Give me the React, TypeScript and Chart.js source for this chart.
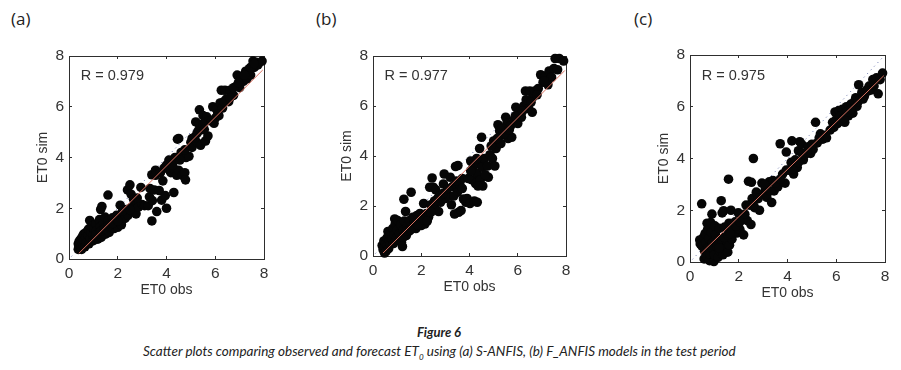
import React, { useEffect, useRef } from "react";
import { Chart, registerables } from "chart.js";

Chart.register(...registerables);

type P = [number, number];

const panelLetters = ["(a)", "(b)", "(c)"];
const rLabels = ["R = 0.979", "R = 0.977", "R = 0.975"];
const xTitle = "ET0 obs";
const yTitle = "ET0 sim";
const captionTitle = "Figure 6";

const fitA: P[] = [[0.4, 0.22], [7.95, 7.45]];
const fitB: P[] = [[0.42, 0.12], [7.95, 7.42]];
const fitC: P[] = [[0.42, 0.3], [7.95, 7.2]];
const identity: P[] = [[0.1, 0.1], [7.9, 7.9]];

const pointsA: P[] = [
  [.38,.38],[.38,.6],[.4,.48],[.42,.7],[.45,.42],[.45,.62],[.48,.78],[.5,.5],[.52,.38],[.52,.7],
  [.55,.88],[.58,.55],[.6,.72],[.6,.98],[.65,.48],[.68,.85],[.7,1.05],[.72,.65],[.78,.95],[.8,1.18],
  [.82,.6],[.85,1.52],[.88,.82],[.9,1.05],[.92,1.28],[1,.72],[1,.95],[1.02,1.2],[1.08,.85],[1.1,1.38],
  [1.12,1.1],[1.18,.78],[1.22,1.02],[1.25,1.55],[1.28,1.28],[1.3,1.95],[1.32,.85],[1.35,2.07],[1.4,1.12],[1.42,1.42],
  [1.48,1.65],[1.5,.98],[1.55,1.25],[1.6,2.52],[1.62,1.52],[1.65,1.05],[1.72,1.28],[1.78,1.62],[1.85,1.2],[1.9,1.45],
  [1.95,1.72],[2,1.25],[2.05,1.55],[2.1,2.12],[2.15,1.35],[2.2,1.7],[2.3,1.6],[2.35,1.95],[2.4,2.72],[2.42,1.72],
  [2.5,2.92],[2.55,2.55],[2.55,2.02],[2.62,1.85],[2.7,2.15],[2.75,1.78],[2.85,2.05],[2.95,2.82],[3,2.15],[3.1,2.1],
  [3.25,2.1],[3.3,2.45],[3.32,2.78],[3.4,3.32],[3.4,1.5],[3.42,2.3],[3.55,3.5],[3.5,2.72],[3.6,1.87],[3.7,2.7],
  [3.8,2.32],[3.85,3.08],[3.9,3.58],[3.95,2.5],[4,2],[4.1,3.9],[4.12,3.5],[4.18,3.4],[4.3,2.62],[4.3,3.55],
  [4.35,4],[4.42,3.3],[4.45,4.72],[4.5,4.75],[4.5,3.5],[4.6,4.2],[4.65,3.3],[4.75,3.4],[4.78,3.12],[4.8,4],
  [4.92,4.05],[5,4.6],[5.05,4.4],[5.15,4.8],[5.2,5.4],[5.25,4.6],[5.3,5.05],[5.35,5.88],[5.4,4.48],[5.45,5.1],
  [5.5,5.65],[5.6,4.65],[5.65,5.6],[5.7,4.85],[5.75,5.45],[5.9,6],[5.95,5.35],[6,5.55],[6.05,5.9],[6.15,5.65],
  [6.2,6.15],[6.25,6.65],[6.3,5.95],[6.4,6.65],[6.45,6.3],[6.55,6.2],[6.6,6.65],[6.75,6.45],[6.85,6.8],[6.9,7.25],
  [7,6.75],[7.05,7.2],[7.15,7],[7.25,7.4],[7.3,7.1],[7.4,7.5],[7.45,7.25],[7.55,7.8],[7.6,7.55],[7.68,7.75],[7.75,7.65],[7.92,7.8],
  [1.1,.95],[1.3,1.1],[1.45,1.2],[1.6,1.3],[1.8,1.4],[2,1.5],[2.2,1.9],[2.5,1.95],[2.65,2.35],[2.8,2.4],
  [3.55,3.3],[3.75,3.4],[4,3.7],[4.25,3.7],[4.55,3.9],[4.75,4.3],[5.05,4.75],[5.25,4.95],[5.35,5.3],[5.5,5.3],
  [5.55,5.1],[5.85,5.45],[6.1,5.7],[6.35,6.2],[6.6,6.35],[6.75,6.75],[6.95,6.95],[7.2,7.25],[7.45,7.55],[7.6,7.7],
];

const pointsB: P[] = [
  [.38,.42],[.42,.25],[.45,.6],[.48,.12],[.5,.38],[.52,.5],[.55,.2],[.58,.72],[.6,.42],[.62,.98],
  [.65,.3],[.68,.62],[.7,.85],[.72,.48],[.78,.68],[.82,1.1],[.85,.5],[.88,.85],[.9,1.48],[.92,1.28],
  [.98,.72],[1,1.05],[1.02,1.42],[1.08,.62],[1.1,.9],[1.15,1.25],[1.18,.55],[1.22,.38],[1.25,1.02],[1.28,2.27],
  [1.3,1.4],[1.35,1.78],[1.38,.82],[1.42,1.18],[1.5,1],[1.52,1.42],[1.58,2.55],[1.6,1.2],[1.65,1.55],[1.72,1.3],
  [1.78,1.1],[1.82,1.62],[1.9,1.38],[1.95,1.7],[2,1.22],[2.05,1.55],[2.1,2.1],[2.15,1.28],[2.22,1.7],[2.3,1.55],
  [2.35,2.75],[2.4,2.05],[2.45,3.12],[2.5,2.75],[2.55,1.95],[2.6,2.65],[2.68,2.3],[2.72,1.78],[2.8,2.15],[2.92,2.88],
  [2.95,3.28],[3,2.3],[3.15,2.4],[3.2,3.15],[3.25,2.05],[3.3,2.78],[3.38,1.68],[3.42,3.58],[3.5,2.55],[3.52,3.62],
  [3.55,1.75],[3.6,2.85],[3.65,1.82],[3.7,3.1],[3.75,2.28],[3.85,2.15],[3.9,2.3],[3.95,3.1],[4.02,2.1],[4.05,3.8],
  [4.1,3.05],[4.15,3.55],[4.2,2.2],[4.25,2.9],[4.3,3.3],[4.32,2.15],[4.38,3.7],[4.42,4.3],[4.45,3.05],[4.5,4.75],
  [4.52,3.55],[4.55,2.8],[4.62,3.9],[4.75,3.6],[4.78,3.15],[4.85,4.05],[4.95,3.9],[5,4.6],[5.05,3.6],[5.1,4.3],
  [5.18,5.25],[5.25,5],[5.3,4.5],[5.4,4.85],[5.5,5.55],[5.55,5.3],[5.6,4.7],[5.7,5.2],[5.75,4.75],[5.85,5.45],
  [5.92,5.95],[6,5.3],[6.05,5.75],[6.15,5.55],[6.25,6],[6.32,6.6],[6.4,6.1],[6.45,5.9],[6.5,6.6],[6.6,5.75],
  [6.62,6.35],[6.7,6.6],[6.85,6.7],[6.95,7.25],[7.05,6.95],[7.15,7.2],[7.25,6.85],[7.3,7.4],[7.4,7.15],[7.5,7.5],
  [7.55,7.9],[7.65,7.45],[7.72,7.9],[7.9,7.8],
  [1.25,.75],[1.4,1],[1.55,1.05],[1.7,1.45],[1.85,1.25],[2.1,1.45],[2.25,1.4],[2.4,1.75],[2.55,2.2],[2.75,2.4],
  [2.9,2.5],[3.1,2.7],[3.35,2.4],[3.45,3],[3.7,2.7],[4.05,3.4],[4.3,3.9],[4.35,2.8],[4.65,3.25],[4.9,4.4],
  [5.15,4.7],[5.35,5.1],[5.45,4.9],[5.65,5.05],[5.9,5.6],[6.2,5.8],[6.35,6.25],[6.55,6.15],[6.8,6.45],[7.1,7],
];

const pointsC: P[] = [
  [.4,.85],[.42,.7],[.48,2.25],[.5,.6],[.55,.95],[.58,.12],[.6,.42],[.62,1.1],[.65,.75],[.68,.22],
  [.7,1.5],[.72,1.25],[.75,.55],[.78,.9],[.8,.05],[.82,.3],[.85,1.52],[.88,1.15],[.9,1.85],[.92,.75],
  [.95,.5],[.98,.02],[1,.28],[1.02,1.4],[1.05,1.05],[1.1,.6],[1.15,.18],[1.18,.85],[1.2,1.3],[1.22,.42],
  [1.28,2.37],[1.3,.7],[1.32,1.9],[1.35,.28],[1.38,1.98],[1.42,1.35],[1.45,.55],[1.5,.82],[1.55,.38],[1.58,3.2],
  [1.6,1.5],[1.62,.65],[1.68,2],[1.72,.88],[1.78,1.25],[1.85,1.55],[1.92,1.12],[1.98,1.9],[2.05,1.25],[2.15,1.7],
  [2.2,1.05],[2.3,2.2],[2.35,1.6],[2.4,3.12],[2.5,1.45],[2.52,3.08],[2.55,2.45],[2.6,4],[2.65,2.1],[2.72,2.7],
  [2.85,2],[2.95,3.05],[3,2.65],[3.1,2.85],[3.15,2.5],[3.25,3.1],[3.35,2.3],[3.4,3.15],[3.45,2.75],[3.6,2.9],
  [3.7,4.57],[3.8,3.4],[3.9,3.05],[3.95,4.25],[4.05,3.55],[4.15,3.85],[4.18,4.68],[4.25,3.4],[4.32,3.95],[4.4,3.65],
  [4.45,4.3],[4.5,4.65],[4.58,4.55],[4.65,3.95],[4.72,4.15],[4.85,4.45],[4.95,4.2],[5.05,4.35],[5.15,5.4],[5.22,4.6],
  [5.35,4.95],[5.45,4.75],[5.55,4.9],[5.6,4.8],[5.9,5.2],[5.95,5.8],[6,5.5],[6.05,5.35],[6.1,5.85],[6.18,5.45],
  [6.25,5.9],[6.3,5.7],[6.35,5.4],[6.42,6],[6.5,5.65],[6.55,5.95],[6.6,6.1],[6.68,5.75],[6.75,6.2],[6.8,6.35],
  [6.85,6.02],[6.92,6.85],[7,6.35],[7.05,6.55],[7.15,6.4],[7.25,6.65],[7.35,6.8],[7.45,6.65],[7.5,7.05],[7.55,6.8],
  [7.65,7.12],[7.72,6.5],[7.8,7.05],[7.9,7.3],
  [1.2,.55],[1.4,.95],[1.55,1.05],[1.65,1.1],[1.9,1.4],[2.05,1.55],[2.25,1.85],[2.45,2.2],[2.6,2.2],[2.8,2.45],
  [3.05,3],[3.3,2.75],[3.5,3.05],[3.7,3.2],[3.95,3.55],[4.2,3.6],[4.45,3.85],[4.6,4.2],[4.8,4.25],[5,4.55],
  [5.3,4.8],[5.75,5.1],[5.85,5.4],[6.15,5.65],[6.3,5.55],[6.45,5.8],[6.6,5.9],[6.9,6.2],[7.1,6.3],[7.3,6.6],
];

const panels = [
  { points: pointsA, fit: fitA, l: 68.5, r: 264, t: 56, b: 259, letterX: 11, letterY: 7 },
  { points: pointsB, fit: fitB, l: 373, r: 566, t: 56, b: 256, letterX: 316, letterY: 7 },
  { points: pointsC, fit: fitC, l: 690, r: 885, t: 55, b: 262, letterX: 634, letterY: 7 },
];

const INK = "#2e2e2e";
const TEXT = "#333333";
const SANS = "'Liberation Sans', Arial, sans-serif";
const yBox = 34;
const xBox = 40;
const padTop = 24;
const padRight = 16;
const innerTick = 3;

function Panel({ index }: { index: number }) {
  const ref = useRef<HTMLCanvasElement>(null);
  const p = panels[index];
  const width = yBox + (p.r - p.l) + padRight;
  const height = padTop + (p.b - p.t) + xBox;

  useEffect(() => {
    if (!ref.current) return;
    const toXY = (a: P[]) => a.map(([x, y]) => ({ x, y }));
    const edge = (display: boolean, position: string) => ({
      type: "linear" as const,
      position,
      min: 0,
      max: 8,
      ticks: { display, stepSize: 2, padding: 8, color: TEXT, font: { family: SANS, size: 15.5 }, maxRotation: 0, autoSkip: false },
      grid: { drawOnChartArea: false, drawTicks: true, tickLength: -innerTick, color: INK, tickColor: INK },
      border: { display: true, color: INK, width: 1 },
    });
    const rLabelPlugin = {
      id: "rLabel",
      afterDatasetsDraw(chart: any) {
        const { ctx, scales } = chart;
        ctx.save();
        ctx.fillStyle = TEXT;
        ctx.font = `14.5px ${SANS}`;
        ctx.textAlign = "left";
        ctx.textBaseline = "middle";
        ctx.fillText(rLabels[index], scales.x.getPixelForValue(0.48), scales.y.getPixelForValue(7.2));
        ctx.restore();
      },
    };
    const chart = new Chart(ref.current, {
      type: "scatter",
      data: {
        datasets: [
          { data: toXY(p.fit), showLine: true, borderColor: "#d9705f", borderWidth: 1, pointRadius: 0, clip: false } as any,
          { data: toXY(p.points), backgroundColor: "#060606", borderWidth: 0, pointRadius: 4.8, clip: false } as any,
          { data: toXY(identity), showLine: true, borderColor: "#5f6ca8", borderWidth: 1, borderDash: [1, 4], pointRadius: 0, clip: false } as any,
        ],
      },
      options: {
        animation: false,
        responsive: false,
        devicePixelRatio: 1,
        layout: { padding: { left: 0, top: padTop, right: padRight, bottom: 0 } },
        plugins: { legend: { display: false }, tooltip: { enabled: false } },
        scales: {
          x: {
            ...edge(true, "bottom"),
            title: { display: true, text: xTitle, color: TEXT, font: { family: SANS, size: 14 }, padding: 0 },
            afterFit: (s: any) => { s.height = xBox; },
          },
          y: {
            ...edge(true, "left"),
            title: { display: true, text: yTitle, color: TEXT, font: { family: SANS, size: 14 }, padding: 0 },
            afterFit: (s: any) => { s.width = yBox; },
          },
          x2: { ...edge(false, "top"), afterFit: (s: any) => { s.height = 0; } },
          y2: { ...edge(false, "right"), afterFit: (s: any) => { s.width = 0; } },
        },
      } as any,
      plugins: [rLabelPlugin],
    });
    return () => chart.destroy();
  }, [index]);

  return (
    <canvas
      ref={ref}
      width={width}
      height={height}
      style={{ position: "absolute", left: p.l - yBox, top: p.t - padTop, width, height }}
    />
  );
}

export default function App() {
  return (
    <div style={{ position: "fixed", left: 0, top: 0, width: 901, height: 370, background: "#fff", overflow: "hidden" }}>
      {panels.map((p, i) => (
        <div key={panelLetters[i]} style={{ position: "absolute", left: p.letterX, top: p.letterY, font: "17px 'Open Sans', sans-serif", color: "#222" }}>
          {panelLetters[i]}
        </div>
      ))}
      {panels.map((_, i) => <Panel key={i} index={i} />)}
      <div style={{ position: "absolute", left: 0, width: 878, top: 324, textAlign: "center", font: "italic bold 13px Lato, sans-serif", color: "#222" }}>
        {captionTitle}
      </div>
      <div style={{ position: "absolute", left: 143, top: 343, whiteSpace: "nowrap", font: "italic 13.5px Lato, sans-serif", color: "#222" }}>
        Scatter plots comparing observed and forecast ET<sub style={{ fontSize: 8, lineHeight: 0 }}>0</sub> using (a) S-ANFIS, (b) F_ANFIS models in the test period
      </div>
    </div>
  );
}
